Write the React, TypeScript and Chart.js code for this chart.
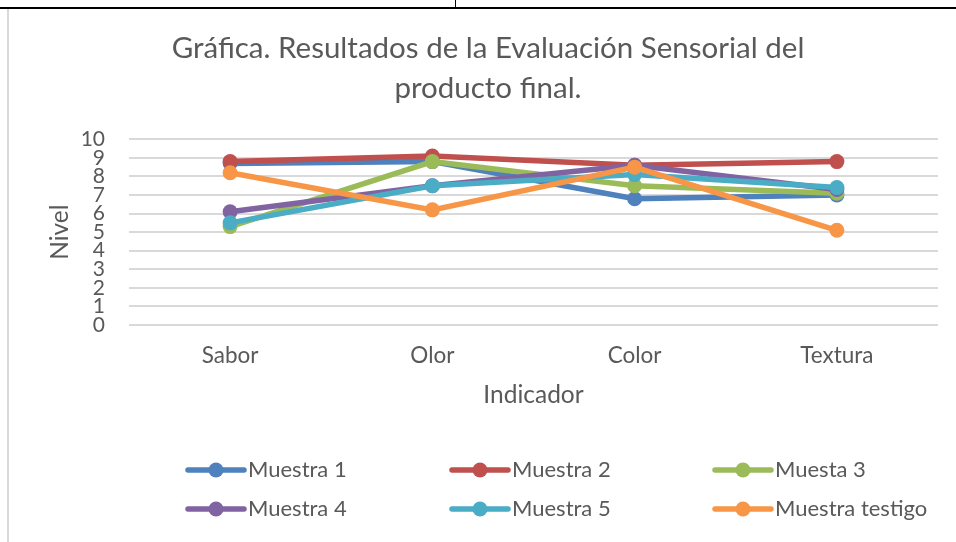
import React, { useEffect, useRef } from "react";
import { Chart, registerables } from "chart.js";

Chart.register(...registerables);

const categories = ["Sabor", "Olor", "Color", "Textura"];
const seriesNames = ["Muestra 1", "Muestra 2", "Muesta 3", "Muestra 4", "Muestra 5", "Muestra testigo"];
const muestra1 = [8.7, 8.8, 6.8, 7.0];
const muestra2 = [8.8, 9.1, 8.6, 8.8];
const muesta3 = [5.3, 8.8, 7.5, 7.1];
const muestra4 = [6.1, 7.5, 8.6, 7.3];
const muestra5 = [5.5, 7.5, 8.1, 7.4];
const testigo = [8.2, 6.2, 8.5, 5.1];
const seriesColors = ["#4f81bd", "#c0504d", "#9bbb59", "#8064a2", "#4bacc6", "#f79646"];
const yTicks = [0, 1, 2, 3, 4, 5, 6, 7, 8, 9, 10];

const FONT = "Lato, 'Open Sans', sans-serif";
const TEXT = "#595959";

// Legend drawn in a fixed 3-column grid, two rows
const gridLegend = {
  id: "gridLegend",
  afterDraw(chart: any, _args: any, opts: any) {
    const ctx = chart.ctx;
    ctx.save();
    chart.data.datasets.forEach((ds: any, i: number) => {
      const x = opts.columns[i % 3];
      const y = opts.rows[Math.floor(i / 3)];
      ctx.strokeStyle = ds.borderColor;
      ctx.lineWidth = ds.borderWidth;
      ctx.lineCap = "round";
      ctx.beginPath();
      ctx.moveTo(x, y);
      ctx.lineTo(x + opts.lineLength, y);
      ctx.stroke();
      ctx.fillStyle = ds.borderColor;
      ctx.beginPath();
      ctx.arc(x + opts.lineLength / 2, y, ds.pointRadius, 0, Math.PI * 2);
      ctx.fill();
      ctx.fillStyle = TEXT;
      ctx.font = `${opts.fontSize}px ${FONT}`;
      ctx.textAlign = "left";
      ctx.textBaseline = "middle";
      ctx.fillText(ds.label, x + opts.textOffset, y);
    });
    ctx.restore();
  },
};

export default function App() {
  const canvasRef = useRef<HTMLCanvasElement | null>(null);

  useEffect(() => {
    const values = [muestra1, muestra2, muesta3, muestra4, muestra5, testigo];
    const chart = new Chart(canvasRef.current as HTMLCanvasElement, {
      type: "line",
      data: {
        labels: categories,
        datasets: values.map((v, i) => ({
          label: seriesNames[i],
          data: v,
          borderColor: seriesColors[i],
          backgroundColor: seriesColors[i],
          borderWidth: 5.5,
          pointRadius: 7.5,
          pointHoverRadius: 7.5,
          pointBorderWidth: 0,
          pointBackgroundColor: seriesColors[i],
          tension: 0,
          fill: false,
          order: values.length - i,
        })),
      },
      options: {
        responsive: false,
        animation: false,
        events: [],
        layout: { padding: { left: 38, right: 18, top: 0, bottom: 132.3 } },
        plugins: {
          legend: { display: false },
          tooltip: { enabled: false },
          title: {
            display: true,
            text: ["Gráfica. Resultados de la Evaluación Sensorial del", "producto final."],
            color: TEXT,
            font: { family: FONT, size: 29.5, weight: "normal", lineHeight: 1.356 },
            padding: { top: 28, bottom: 31.3 },
          },
          gridLegend: {
            columns: [188, 452, 715],
            rows: [470, 509],
            lineLength: 56,
            textOffset: 60,
            fontSize: 22,
          },
        } as any,
        scales: {
          x: {
            offset: true,
            grid: { display: false, drawTicks: false },
            border: { display: false },
            ticks: { color: TEXT, font: { family: FONT, size: 22.5 }, padding: 17.5 },
            title: {
              display: true,
              text: "Indicador",
              color: TEXT,
              font: { family: FONT, size: 24.5 },
              padding: { top: 0, bottom: 0 },
            },
            afterFit: (s: any) => {
              s.height = 84.7;
            },
          },
          y: {
            min: 0,
            max: 10,
            afterBuildTicks: (s: any) => {
              s.ticks = yTicks.map((v) => ({ value: v }));
            },
            grid: { color: "#d9d9d9", lineWidth: 2, drawTicks: false },
            border: { display: false },
            ticks: { color: TEXT, font: { family: FONT, size: 21 }, padding: 24, autoSkip: false },
            title: {
              display: true,
              text: "Nivel",
              color: TEXT,
              font: { family: FONT, size: 24.5 },
              padding: { top: 7.3, bottom: 0 },
            },
            afterFit: (s: any) => {
              s.width = 91;
            },
          },
        },
      },
      plugins: [gridLegend],
    });
    return () => chart.destroy();
  }, []);

  return (
    <div style={{ position: "fixed", left: 0, top: 0, width: 956, height: 542, background: "#fff", overflow: "hidden" }}>
      <div style={{ position: "absolute", left: 0, top: 7, width: 956, height: 2, background: "#000" }} />
      <div style={{ position: "absolute", left: 455, top: 0, width: 1, height: 8, background: "#000" }} />
      <div style={{ position: "absolute", left: 7, top: 9, width: 2, height: 533, background: "#d9d9d9" }} />
      <canvas ref={canvasRef} width={956} height={542} style={{ position: "absolute", left: 0, top: 0 }} />
    </div>
  );
}
